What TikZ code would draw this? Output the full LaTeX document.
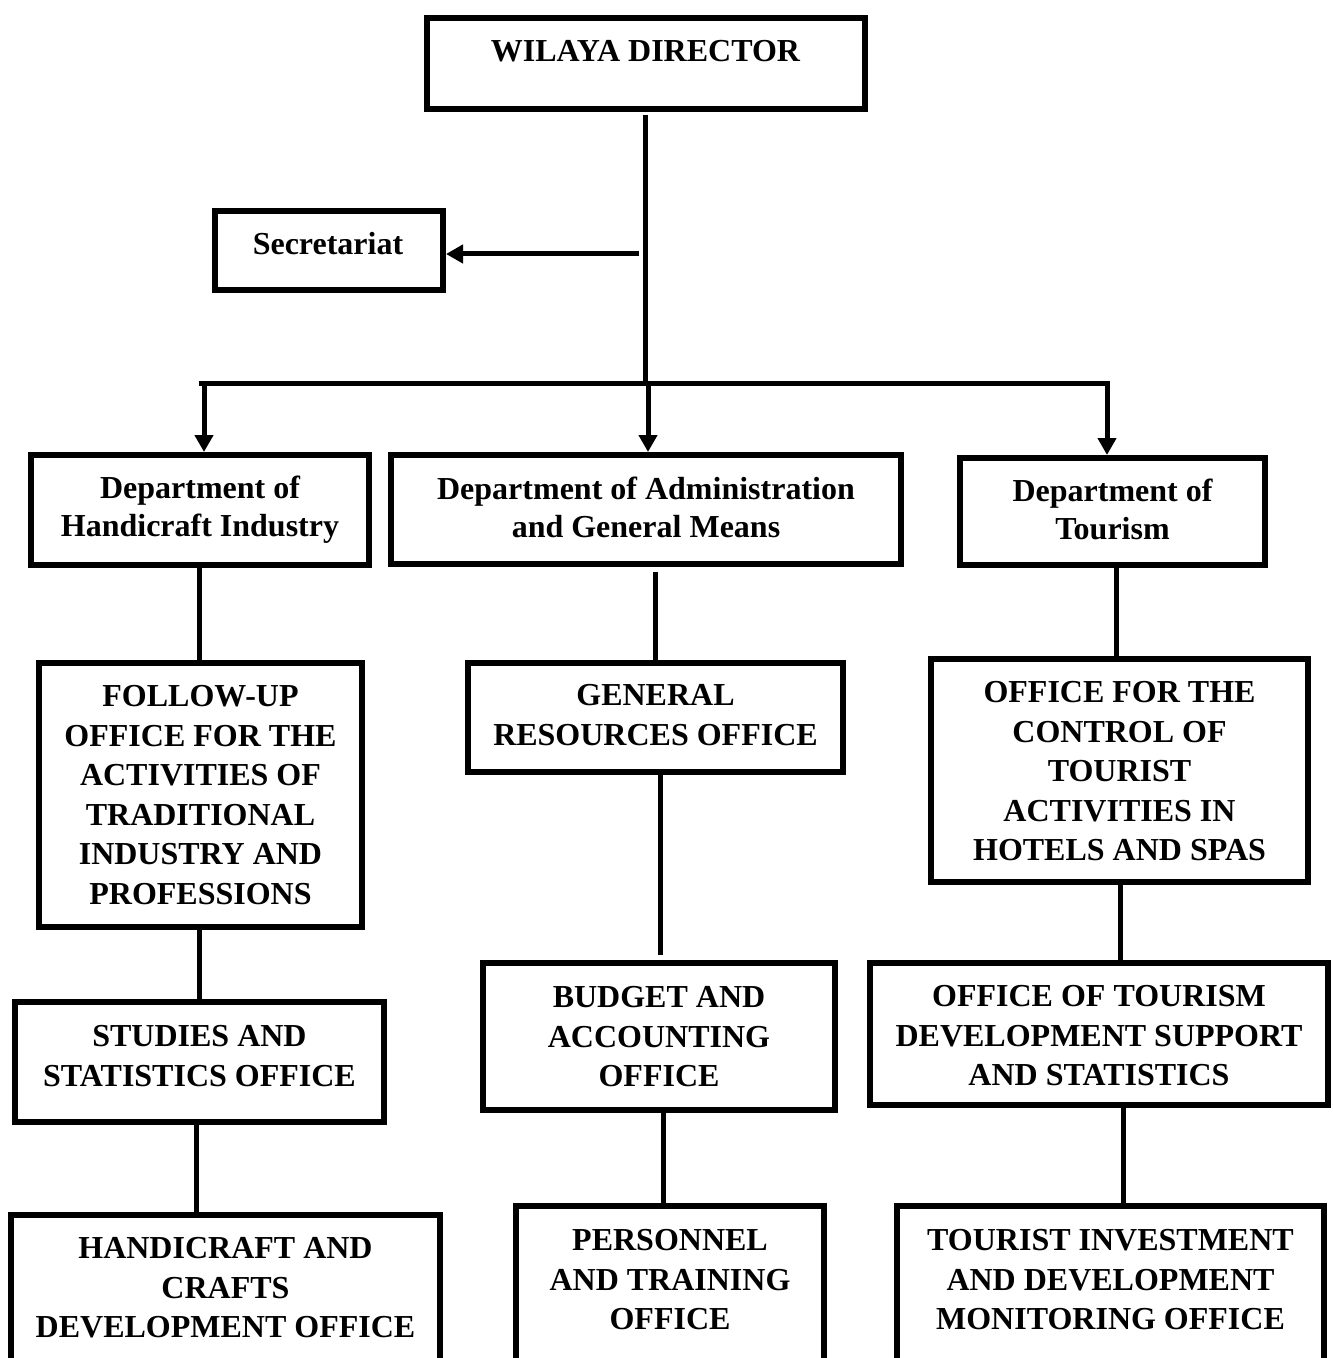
\documentclass[tikz,border=0pt]{standalone}
\usepackage{fontspec}
\setmainfont{Liberation Serif}
\usetikzlibrary{arrows.meta}
\tikzset{
 box/.style={draw, line width=3pt, inner sep=0pt, fill=white},
 txt/.style={anchor=north, align=center, inner sep=0pt, font=\bfseries\fontsize{16pt}{19.8pt}\selectfont},
 dtxt/.style={txt, font=\bfseries\fontsize{16pt}{19pt}\selectfont},
 conn/.style={line width=2.5pt},
 arr/.style={conn, -{Triangle[length=8.5pt,width=9pt]}},
}
\begin{document}
\begin{tikzpicture}[x=0.5pt,y=-0.5pt]
\useasboundingbox (0,0) rectangle (1332,1358);
\clip (0,0) rectangle (1332,1358);
\fill[white] (0,0) rectangle (1332,1358);
% boxes
\node[box, minimum width=219pt, minimum height=45.5pt] (dir) at (646,63.5) {};
\node[box, minimum width=114pt, minimum height=39.5pt] (sec) at (329,250.5) {};
\node[box, minimum width=169pt, minimum height=55pt] (dH) at (200,510) {};
\node[box, minimum width=255pt, minimum height=54.5pt] (dA) at (646,509.5) {};
\node[box, minimum width=152.5pt, minimum height=53.5pt] (dT) at (1112.5,511.5) {};
\node[box, minimum width=161.5pt, minimum height=132pt] (fu) at (200.5,795) {};
\node[box, minimum width=184.5pt, minimum height=60pt] (st) at (199.5,1062) {};
\node[box, minimum width=214.5pt, minimum height=102.5pt] (hc) at (225.5,1317.5) {};
\node[box, minimum width=187.5pt, minimum height=54.5pt] (gr) at (655.5,717.5) {};
\node[box, minimum width=176pt, minimum height=73.5pt] (bu) at (659,1036.5) {};
\node[box, minimum width=154pt, minimum height=107pt] (pe) at (670,1313) {};
\node[box, minimum width=188.5pt, minimum height=111.5pt] (oc) at (1119.5,770.5) {};
\node[box, minimum width=229pt, minimum height=71pt] (ot) at (1099,1034) {};
\node[box, minimum width=213.5pt, minimum height=107pt] (ti) at (1110.5,1313) {};
% texts
\node[txt] (dirT) at (645.5,40) {WILAYA DIRECTOR};
\node[txt] (secT) at (328,232) {Secretariat};
\node[dtxt] (dHT) at (200,475.5) {Department of\\Handicraft Industry};
\node[dtxt] (dAT) at (646,477) {Department of Administration\\and General Means};
\node[dtxt] (dTT) at (1112.5,479) {Department of\\Tourism};
\node[txt] (fuT) at (200.5,685) {FOLLOW-UP\\OFFICE FOR THE\\ACTIVITIES OF\\TRADITIONAL\\INDUSTRY AND\\PROFESSIONS};
\node[txt] (stT) at (199.5,1025) {STUDIES AND\\STATISTICS OFFICE};
\node[txt] (hcT) at (225.5,1237) {HANDICRAFT AND\\CRAFTS\\DEVELOPMENT OFFICE};
\node[txt] (grT) at (655.5,684) {GENERAL\\RESOURCES OFFICE};
\node[txt] (buT) at (659,986) {BUDGET AND\\ACCOUNTING\\OFFICE};
\node[txt] (peT) at (670,1229) {PERSONNEL\\AND TRAINING\\OFFICE};
\node[txt] (ocT) at (1119.5,681) {OFFICE FOR THE\\CONTROL OF\\TOURIST\\ACTIVITIES IN\\HOTELS AND SPAS};
\node[txt] (otT) at (1099,985) {OFFICE OF TOURISM\\DEVELOPMENT SUPPORT\\AND STATISTICS};
\node[txt] (tiT) at (1110.5,1229) {TOURIST INVESTMENT\\AND DEVELOPMENT\\MONITORING OFFICE};
% connector coordinates
\coordinate (J) at (645,383);
\coordinate (L) at (199,383);
\coordinate (R) at (1110,383);
\coordinate (aH) at (204,383);
\coordinate (aA) at (648,383);
\coordinate (aT) at (1107,383);
\coordinate (S) at (639,254);
\coordinate (xH1) at (199,0);
\coordinate (xH2) at (196,0);
\coordinate (xA1) at (655,0);
\coordinate (xA2) at (660,0);
\coordinate (xA3) at (663,0);
\coordinate (xT1) at (1116,0);
\coordinate (xT2) at (1120,0);
\coordinate (xT3) at (1123,0);
% connectors
\draw[conn, shorten <=1.5pt] (dir.south -| J) -- (J);
\draw[conn] (L) -- (R);
\draw[arr] (aH) -- (aH |- dH.north);
\draw[arr] (aA) -- (aA |- dA.north);
\draw[arr] (aT) -- (aT |- dT.north);
\draw[arr] (S) -- (S -| sec.east);
\draw[conn] (dH.south -| xH1) -- (fu.north -| xH1);
\draw[conn] (fu.south -| xH1) -- (st.north -| xH1);
\draw[conn] (st.south -| xH2) -- (hc.north -| xH2);
\draw[conn, shorten <=2.5pt] (dA.south -| xA1) -- (gr.north -| xA1);
\draw[conn, shorten >=2.5pt] (gr.south -| xA2) -- (bu.north -| xA2);
\draw[conn] (bu.south -| xA3) -- (pe.north -| xA3);
\draw[conn] (dT.south -| xT1) -- (oc.north -| xT1);
\draw[conn] (oc.south -| xT2) -- (ot.north -| xT2);
\draw[conn] (ot.south -| xT3) -- (ti.north -| xT3);
\end{tikzpicture}
\end{document}
